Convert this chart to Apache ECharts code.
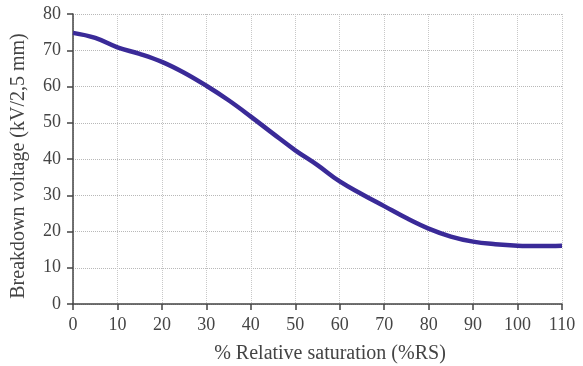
<!DOCTYPE html>
<html>
<head>
<meta charset="utf-8">
<script src="https://cdn.jsdelivr.net/npm/echarts@6/dist/echarts.min.js"></script>
<style>html,body{margin:0;padding:0;background:#fff}#c{width:583px;height:366px}</style>
</head>
<body>
<div id="c"></div>
<script>
const xValues = [0, 5, 10, 15, 20, 25, 30, 35, 40, 45, 50, 55, 60, 65, 70, 75, 80, 85, 90, 95, 100, 105, 110];
const yValues = [74.8, 73.4, 70.8, 69.0, 66.8, 63.8, 60.2, 56.2, 51.7, 47.0, 42.4, 38.3, 33.8, 30.3, 27.0, 23.7, 20.8, 18.6, 17.2, 16.5, 16.1, 16.0, 16.1];
const xTicks = {min: 0, max: 110, interval: 10};
const yTicks = {min: 0, max: 80, interval: 10};
const xName = '% Relative saturation (%RS)';
const yName = 'Breakdown voltage (kV/2,5 mm)';

const font = '"Liberation Serif", "DejaVu Serif", serif';
const chart = echarts.init(document.getElementById('c'), null, {renderer: 'canvas'});
chart.setOption({
  animation: false,
  grid: {left: 73, right: 21, top: 14, bottom: 62, containLabel: false, outerBoundsMode: 'none'},
  xAxis: {
    type: 'value', min: xTicks.min, max: xTicks.max, interval: xTicks.interval,
    name: xName, nameLocation: 'middle', nameGap: 40,
    nameTextStyle: {fontFamily: font, fontSize: 20, color: '#444', padding: [0, 0, 0, 25]},
    axisLine: {show: true, lineStyle: {color: '#444', width: 1.5}},
    axisTick: {show: true, inside: false, length: 6, lineStyle: {color: '#444', width: 1.5}},
    axisLabel: {fontFamily: font, fontSize: 18, color: '#444', margin: 12},
    splitLine: {show: true, lineStyle: {color: '#c8c8c8', type: 'dotted', width: 1}}
  },
  yAxis: {
    type: 'value', min: yTicks.min, max: yTicks.max, interval: yTicks.interval,
    name: yName, nameLocation: 'middle', nameGap: 44,
    nameTextStyle: {fontFamily: font, fontSize: 20, color: '#444', padding: [0, 14, 0, 0]},
    axisLine: {show: true, lineStyle: {color: '#444', width: 1.5}},
    axisTick: {show: true, inside: false, length: 6, lineStyle: {color: '#444', width: 1.5}},
    axisLabel: {fontFamily: font, fontSize: 18, color: '#444', margin: 12},
    splitLine: {show: true, lineStyle: {color: '#b8b8b8', type: 'dotted', width: 1}}
  },
  series: [{
    type: 'line',
    data: xValues.map((x, i) => [x, yValues[i]]),
    smooth: 0.4,
    showSymbol: false,
    lineStyle: {color: '#3a2a98', width: 4.5}
  }]
});
</script>
</body>
</html>
